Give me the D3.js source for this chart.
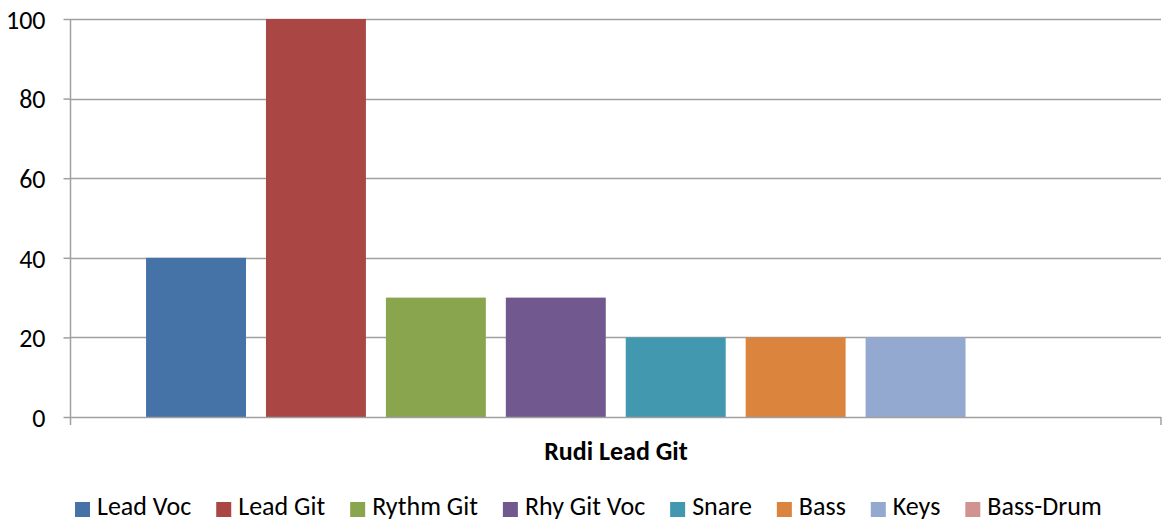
<!DOCTYPE html>
<html>
<head>
<meta charset="utf-8">
<script src="https://cdn.jsdelivr.net/npm/d3@7"></script>
<style>
  body { margin: 0; background: #fff; }
  svg { font-family: Carlito, Calibri, Lato, "Open Sans", sans-serif; }
</style>
</head>
<body>
<div id="chart"></div>
<script>
const category = 'Rudi Lead Git';
const series = ['Lead Voc', 'Lead Git', 'Rythm Git', 'Rhy Git Voc', 'Snare', 'Bass', 'Keys', 'Bass-Drum'];
const values = [40, 100, 30, 30, 20, 20, 20, 0];
const colors = ['#4572a7', '#aa4643', '#89a54e', '#71588f', '#4198af', '#db843d', '#93a9cf', '#d19392'];
const yTicks = [0, 20, 40, 60, 80, 100];

const width = 1163;
const height = 521;
const plot = { left: 70.5, right: 1161, top: 19, bottom: 417 };
const fontSize = '26px';

const svg = d3.select('#chart')
  .append('svg')
    .attr('width', width)
    .attr('height', height);

const x = d3.scaleBand()
  .domain(series)
  .range([plot.left, plot.right])
  .paddingInner(0.1667)
  .paddingOuter(0.63);

const y = d3.scaleLinear()
  .domain([0, 100])
  .range([plot.bottom, plot.top]);

// gridlines
svg.append('g')
  .selectAll('line')
  .data(yTicks.filter(d => d > 0))
  .enter()
  .append('line')
    .attr('x1', plot.left)
    .attr('x2', plot.right)
    .attr('y1', d => Math.round(y(d)) + 0.5)
    .attr('y2', d => Math.round(y(d)) + 0.5)
    .attr('stroke', '#a0a0a0')
    .attr('stroke-width', 1.5);

// bars
svg.append('g')
  .selectAll('rect')
  .data(series)
  .enter()
  .append('rect')
    .attr('x', d => x(d))
    .attr('y', (d, i) => y(values[i]))
    .attr('width', x.bandwidth())
    .attr('height', (d, i) => y(0) - y(values[i]))
    .attr('fill', (d, i) => colors[i]);

// y axis
const axisY = d3.axisLeft(y)
  .tickValues(yTicks)
  .tickSize(7);
const gy = svg.append('g')
  .attr('transform', `translate(${plot.left}, 0)`)
  .call(axisY);
gy.select('.domain').remove();
gy.selectAll('.tick line').attr('stroke', '#a0a0a0').attr('stroke-width', 1.5);
gy.selectAll('.tick text')
  .attr('fill', '#000')
  .attr('x', -25)
  .attr('dy', '0.36em')
  .style('font-size', fontSize)
  .style('font-family', 'Carlito, Calibri, Lato, sans-serif');
svg.append('line')
  .attr('x1', plot.left).attr('x2', plot.left)
  .attr('y1', plot.top).attr('y2', plot.bottom + 8)
  .attr('stroke', '#a0a0a0').attr('stroke-width', 1.5);

// x axis
svg.append('line')
  .attr('x1', plot.left).attr('x2', plot.right)
  .attr('y1', plot.bottom + 0.5).attr('y2', plot.bottom + 0.5)
  .attr('stroke', '#a0a0a0').attr('stroke-width', 1.5);
svg.append('line')
  .attr('x1', plot.right).attr('x2', plot.right)
  .attr('y1', plot.bottom).attr('y2', plot.bottom + 8)
  .attr('stroke', '#a0a0a0').attr('stroke-width', 1.5);

svg.append('text')
  .attr('x', 616)
  .attr('y', 460)
  .attr('text-anchor', 'middle')
  .style('font-size', fontSize)
  .style('font-weight', 'bold')
  .text(category);

// legend
const legend = svg.append('g').attr('transform', 'translate(0, 515)');
const items = legend.selectAll('g')
  .data(series)
  .enter()
  .append('g');
items.append('rect')
  .attr('y', -13)
  .attr('width', 15)
  .attr('height', 15)
  .attr('fill', (d, i) => colors[i]);
items.append('text')
  .attr('x', 22)
  .attr('y', 0)
  .style('font-size', fontSize)
  .text(d => d);

let offset = 75;
const widths = [];
items.each(function () {
  widths.push(22 + this.querySelector('text').getComputedTextLength());
});
const gap = 25;
items.attr('transform', (d, i) => {
  const t = `translate(${offset}, 0)`;
  offset += widths[i] + gap;
  return t;
});
</script>
</body>
</html>
